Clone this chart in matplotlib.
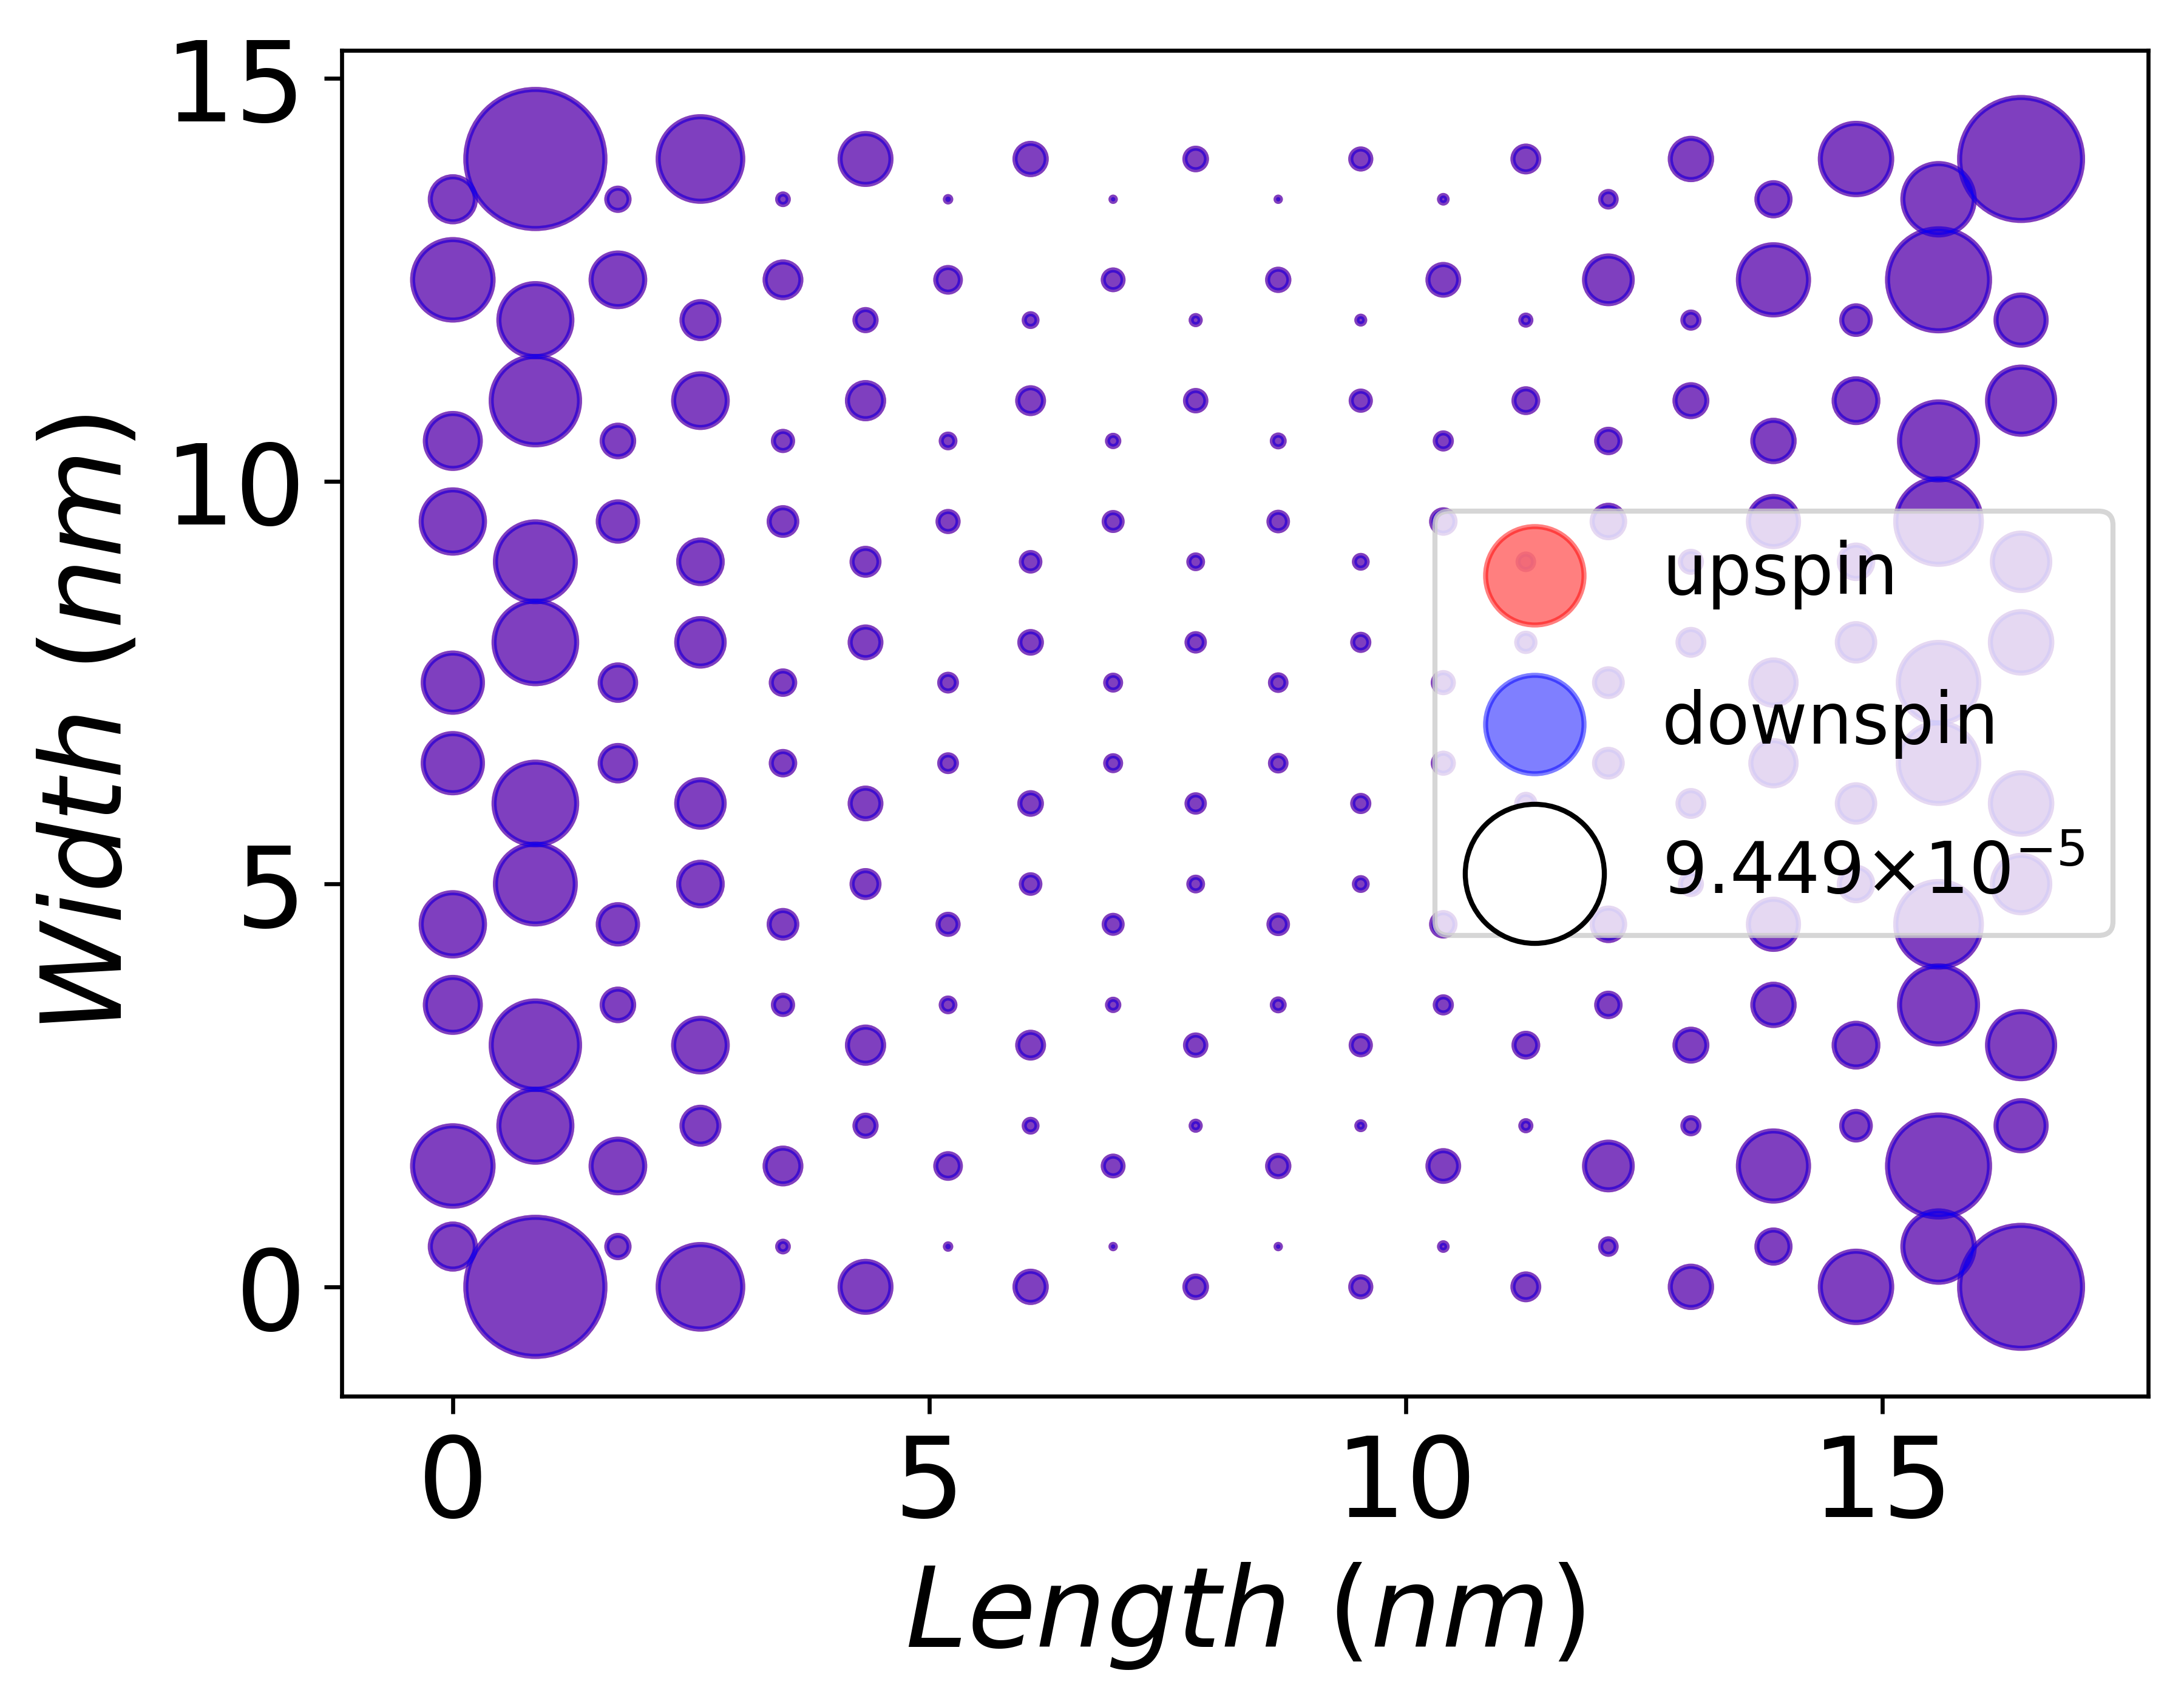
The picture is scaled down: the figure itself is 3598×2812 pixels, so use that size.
import matplotlib
matplotlib.use('Agg')
import matplotlib.pyplot as plt
import numpy as np

# Lattice columns (nm)
x_columns = [0.0, 0.866, 1.732, 2.598, 3.464, 4.330, 5.196, 6.062, 6.928, 7.794,
             8.660, 9.526, 10.392, 11.258, 12.124, 12.990, 13.856, 14.722, 15.588, 16.454]
# y positions of sites in even / odd columns (nm)
y_even = [0.5, 1.5, 3.5, 4.5, 6.5, 7.5, 9.5, 10.5, 12.5, 13.5]
y_odd = [0.0, 2.0, 3.0, 5.0, 6.0, 8.0, 9.0, 11.0, 12.0, 14.0]

# Spin densities per column (units of 1e-5), listed in the order of y_even / y_odd
density_up = [
    [0.991, 3.160, 1.474, 1.954, 1.711, 1.711, 1.954, 1.474, 3.160, 0.991],
    [9.449, 2.601, 3.811, 3.113, 3.334, 3.334, 3.113, 3.811, 2.601, 9.449],
    [0.241, 1.403, 0.485, 0.753, 0.612, 0.612, 0.753, 0.485, 1.403, 0.241],
    [3.493, 0.665, 1.403, 0.925, 1.098, 1.098, 0.925, 1.403, 0.665, 3.493],
    [0.055, 0.624, 0.179, 0.373, 0.267, 0.267, 0.373, 0.179, 0.624, 0.055],
    [1.264, 0.217, 0.639, 0.353, 0.461, 0.461, 0.353, 0.639, 0.217, 1.264],
    [0.014, 0.295, 0.091, 0.196, 0.136, 0.136, 0.196, 0.091, 0.295, 0.014],
    [0.477, 0.079, 0.325, 0.167, 0.227, 0.227, 0.167, 0.325, 0.079, 0.477],
    [0.009, 0.190, 0.062, 0.157, 0.108, 0.108, 0.157, 0.062, 0.190, 0.009],
    [0.227, 0.040, 0.202, 0.091, 0.146, 0.146, 0.091, 0.202, 0.040, 0.227],
    [0.009, 0.220, 0.068, 0.167, 0.117, 0.117, 0.167, 0.068, 0.220, 0.009],
    [0.196, 0.030, 0.179, 0.079, 0.126, 0.126, 0.079, 0.179, 0.030, 0.196],
    [0.028, 0.459, 0.126, 0.267, 0.196, 0.196, 0.267, 0.126, 0.459, 0.028],
    [0.325, 0.049, 0.275, 0.117, 0.162, 0.162, 0.117, 0.275, 0.049, 0.325],
    [0.117, 1.109, 0.267, 0.515, 0.373, 0.373, 0.515, 0.267, 1.109, 0.117],
    [0.832, 0.126, 0.496, 0.214, 0.325, 0.325, 0.214, 0.496, 0.126, 0.832],
    [0.535, 2.401, 0.832, 1.225, 0.999, 0.999, 1.225, 0.832, 2.401, 0.535],
    [2.485, 0.398, 0.933, 0.546, 0.681, 0.681, 0.546, 0.933, 0.398, 2.485],
    [2.485, 5.080, 2.972, 3.579, 3.160, 3.160, 3.579, 2.972, 5.080, 2.485],
    [7.381, 1.225, 2.198, 1.607, 1.840, 1.840, 1.607, 2.198, 1.225, 7.381],
]
density_down = [
    [0.991, 3.160, 1.474, 1.954, 1.711, 1.711, 1.954, 1.474, 3.160, 0.991],
    [9.449, 2.601, 3.811, 3.113, 3.334, 3.334, 3.113, 3.811, 2.601, 9.449],
    [0.241, 1.403, 0.485, 0.753, 0.612, 0.612, 0.753, 0.485, 1.403, 0.241],
    [3.493, 0.665, 1.403, 0.925, 1.098, 1.098, 0.925, 1.403, 0.665, 3.493],
    [0.055, 0.624, 0.179, 0.373, 0.267, 0.267, 0.373, 0.179, 0.624, 0.055],
    [1.264, 0.217, 0.639, 0.353, 0.461, 0.461, 0.353, 0.639, 0.217, 1.264],
    [0.014, 0.295, 0.091, 0.196, 0.136, 0.136, 0.196, 0.091, 0.295, 0.014],
    [0.477, 0.079, 0.325, 0.167, 0.227, 0.227, 0.167, 0.325, 0.079, 0.477],
    [0.009, 0.190, 0.062, 0.157, 0.108, 0.108, 0.157, 0.062, 0.190, 0.009],
    [0.227, 0.040, 0.202, 0.091, 0.146, 0.146, 0.091, 0.202, 0.040, 0.227],
    [0.009, 0.220, 0.068, 0.167, 0.117, 0.117, 0.167, 0.068, 0.220, 0.009],
    [0.196, 0.030, 0.179, 0.079, 0.126, 0.126, 0.079, 0.179, 0.030, 0.196],
    [0.028, 0.459, 0.126, 0.267, 0.196, 0.196, 0.267, 0.126, 0.459, 0.028],
    [0.325, 0.049, 0.275, 0.117, 0.162, 0.162, 0.117, 0.275, 0.049, 0.325],
    [0.117, 1.109, 0.267, 0.515, 0.373, 0.373, 0.515, 0.267, 1.109, 0.117],
    [0.832, 0.126, 0.496, 0.214, 0.325, 0.325, 0.214, 0.496, 0.126, 0.832],
    [0.535, 2.401, 0.832, 1.225, 0.999, 0.999, 1.225, 0.832, 2.401, 0.535],
    [2.485, 0.398, 0.933, 0.546, 0.681, 0.681, 0.546, 0.933, 0.398, 2.485],
    [2.485, 5.080, 2.972, 3.579, 3.160, 3.160, 3.579, 2.972, 5.080, 2.485],
    [7.381, 1.225, 2.198, 1.607, 1.840, 1.840, 1.607, 2.198, 1.225, 7.381],
]
max_density = 9.449          # legend reference value (x 1e-5)
legend_label = r'$9.449{\times}10^{-5}$'
size_scale = 80.0            # marker area (pt^2) per 1e-5 of density

xs, ys, up, dn = [], [], [], []
for i, xc in enumerate(x_columns):
    ycol = y_even if i % 2 == 0 else y_odd
    for yv, u, d in zip(ycol, density_up[i], density_down[i]):
        xs.append(xc)
        ys.append(yv)
        up.append(u)
        dn.append(d)
up = np.array(up)
dn = np.array(dn)

fig, ax = plt.subplots(figsize=(6.4, 4.8), dpi=600)
ax.scatter(xs, ys, s=up * size_scale, c='red', alpha=0.5, label='upspin')
ax.scatter(xs, ys, s=dn * size_scale, c='blue', alpha=0.5, label='downspin')
ax.scatter([], [], s=max_density * size_scale, facecolor='white',
           edgecolor='black', label=legend_label)

ax.set_xlim(-1.166, 17.787)
ax.set_ylim(-1.36, 15.35)
ax.set_xticks([0, 5, 10, 15])
ax.set_yticks([0, 5, 10, 15])
ax.tick_params(labelsize=22)
ax.set_xlabel(r'$Length\ (nm)$', fontsize=22)
ax.set_ylabel(r'$Width\ (nm)$', fontsize=22)
ax.legend(loc='center right', fontsize=14, labelspacing=1.12)

fig.savefig('out.png', dpi=600, bbox_inches='tight')
